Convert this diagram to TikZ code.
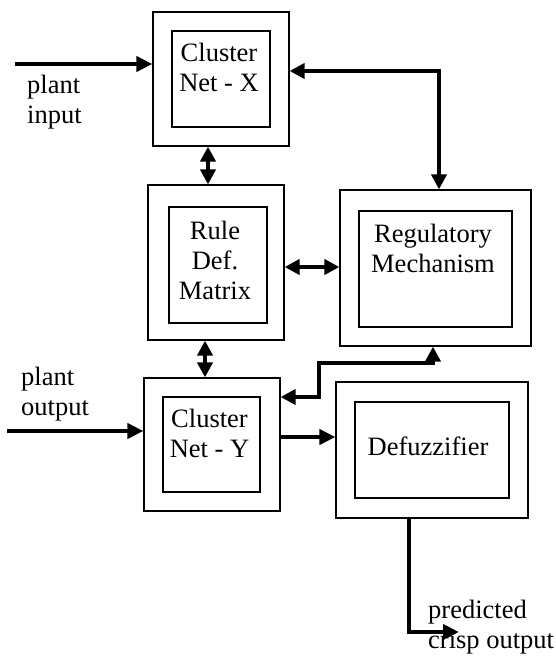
\documentclass[tikz,border=0pt]{standalone}
\usepackage{fontspec}
\setmainfont{Liberation Serif}
\usetikzlibrary{arrows.meta}

\begin{document}
\begin{tikzpicture}[x=1pt, y=-1pt,
		outbox/.style = {draw, line width=1.2pt, inner sep=0pt},
		inbox/.style = {draw, line width=1.2pt, inner sep=0pt},
		txt/.style = {font=\fontsize{26.5}{30}\selectfont, align=center, inner sep=0pt},
		lbl/.style = {font=\fontsize{26.5}{30}\selectfont, align=left, inner sep=0pt, anchor=north west},
		flow/.style = {line width=4pt, -{Triangle[length=16pt,width=15pt]}},
		both/.style = {line width=4pt, {Triangle[length=15pt,width=15pt]}-{Triangle[length=15pt,width=15pt]}}]
		\useasboundingbox (0,0) rectangle (556,656);
		% blocks
		\node [outbox, minimum width=136pt, minimum height=134pt] (cx) at (221,79) {};
		\node [inbox, minimum width=98pt, minimum height=96pt] (cxin) at (221,79) {};
		\node [txt] (cxtxt) at (219,67) {Cluster\\Net - X};
		\node [outbox, minimum width=136pt, minimum height=155pt] (rd) at (216,262.5) {};
		\node [inbox, minimum width=98pt, minimum height=116pt] (rdin) at (218,265) {};
		\node [txt] (rdtxt) at (215,260) {Rule\\Def.\\Matrix};
		\node [outbox, minimum width=191pt, minimum height=156pt] (rm) at (435.5,268) {};
		\node [inbox, minimum width=153pt, minimum height=116pt] (rmin) at (435.5,269) {};
		\node [txt] (rmtxt) at (433,248) {Regulatory\\Mechanism};
		\node [outbox, minimum width=136pt, minimum height=133pt] (cy) at (212,444.5) {};
		\node [inbox, minimum width=97pt, minimum height=95pt] (cyin) at (211.5,444.5) {};
		\node [txt] (cytxt) at (209.5,433) {Cluster\\Net - Y};
		\node [outbox, minimum width=192pt, minimum height=136pt] (df) at (432,450) {};
		\node [inbox, minimum width=154pt, minimum height=96pt] (dfin) at (432,450) {};
		\node [txt] (dftxt) at (428,446) {Defuzzifier};
		% labels
		\node [lbl] (pinlbl) at (27,75) {plant\\input};
		\node [lbl] (poutlbl) at (21,367) {plant\\output};
		\node [lbl] (predlbl) at (428,600) {predicted\\crisp output};
		% connectors
		\coordinate (pin) at (15,64);
		\coordinate (fb) at (439,71);
		\coordinate (cr) at (208,0);
		\coordinate (rr) at (0,267);
		\coordinate (rc) at (205,0);
		\coordinate (k1) at (433,363);
		\coordinate (k2) at (319,397);
		\coordinate (pout) at (7,431);
		\coordinate (cd) at (0,437);
		\coordinate (dx) at (409,632);
		\coordinate (dout) at (459,632);
		\draw [flow] (pin) -- (pin -| cx.west);
		\draw [both] (fb -| cx.east) -- (fb) -- (fb |- rm.north);
		\draw [both] (cr |- cx.south) -- (cr |- rd.north);
		\draw [both] (rr -| rd.east) -- (rr -| rm.west);
		\draw [both] (rc |- rd.south) -- (rc |- cy.north);
		\draw [both] (k1 |- rm.south) -- (k1) -- (k1 -| k2) -- (k2) -- (k2 -| cy.east);
		\draw [flow] (pout) -- (pout -| cy.west);
		\draw [flow] (cd -| cy.east) -- (cd -| df.west);
		\draw [flow] (dx |- df.south) -- (dx) -- (dout);
	\end{tikzpicture}
\end{document}
